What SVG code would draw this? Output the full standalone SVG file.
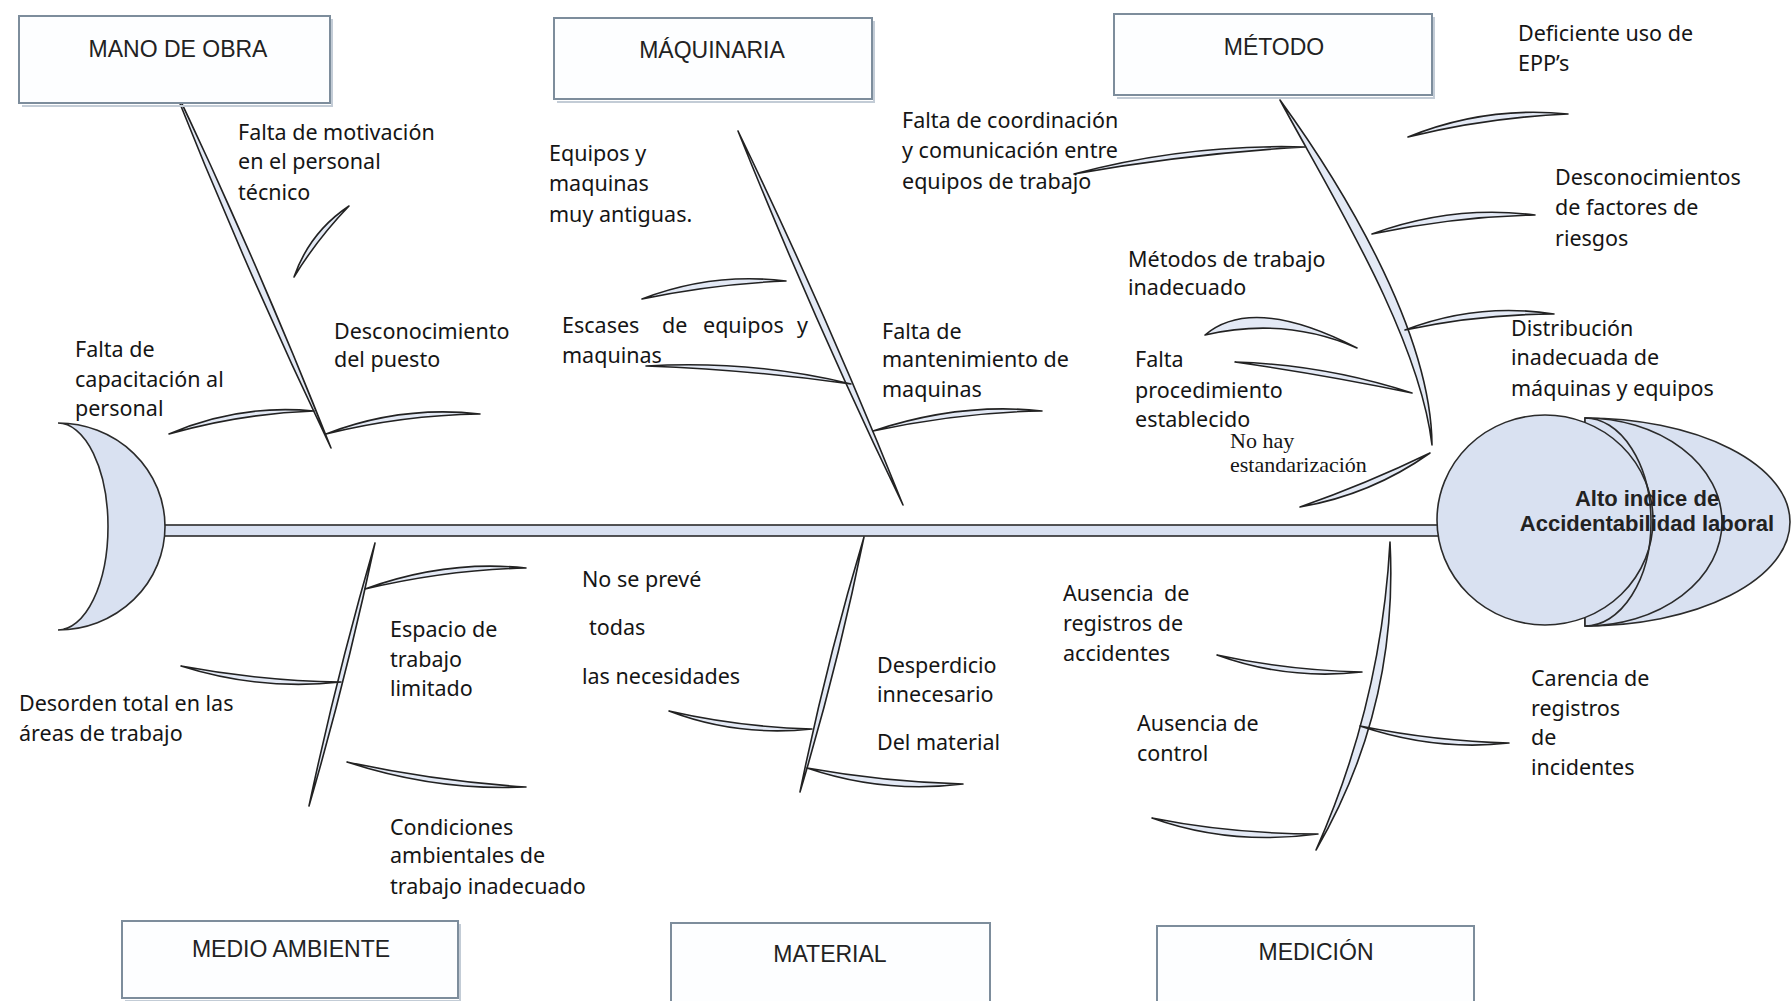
<svg xmlns="http://www.w3.org/2000/svg" width="1792" height="1001" viewBox="0 0 1792 1001">
<style>
.box{fill:#fdfeff;stroke:#7d8d9c;stroke-width:2}
.shadow{fill:none;stroke:#c3ccd6;stroke-width:2}
.lbl{font-family:"Liberation Sans",Arial,sans-serif;font-size:23px;fill:#222;text-anchor:middle}
.t{font-family:"Noto Sans","DejaVu Sans",sans-serif;font-size:21.5px;fill:#151515}
.serif{font-family:"Liberation Serif","Times New Roman",serif;font-size:22px;fill:#151515}
.bone{fill:#e3e9f5;stroke:#222;stroke-width:1.6;stroke-linejoin:round}
.fill{fill:#d9e1f1;stroke:#2b2b2b;stroke-width:1.6}
.head{font-family:"Liberation Sans",Arial,sans-serif;font-weight:bold;font-size:22px;fill:#222;text-anchor:middle}
</style>
<rect x="0" y="0" width="1792" height="1001" fill="#fff"/>

<g id="connectors">
  <rect class="fill" x="160" y="525" width="1282" height="11"/>
  <path class="bone" d="M168,74 Q255.9,258.2 331,448 Q243.1,263.8 168,74 Z"/>
  <path class="bone" d="M738,131 Q826.9,315.2 903,505 Q814.1,320.8 738,131 Z"/>
  <path class="bone" d="M1280,100 C1336.1,177.3 1431.1,327.3 1432,445 C1418.9,332.7 1323.9,182.7 1280,100 Z"/>
  <path class="bone" d="M375,543 Q346.9,675.7 309,806 Q337.2,673.3 375,543 Z"/>
  <path class="bone" d="M864,537 Q837.8,666 800,792 Q826.2,663 864,537 Z"/>
  <path class="bone" d="M1390,542 Q1398.7,707.6 1316,850 Q1381.3,703.4 1390,542 Z"/>
  <path class="bone" d="M294,277 Q317.6,238.5 349,206 Q309.6,232.3 294,277 Z"/>
  <path class="bone" d="M169,434 Q240.1,413.6 314,411 Q238.5,403.8 169,434 Z"/>
  <path class="bone" d="M326,434 Q401.9,415.1 480,414 Q400.6,405.1 326,434 Z"/>
  <path class="bone" d="M642,299 Q713.2,284 786,281 Q711.8,272 642,299 Z"/>
  <path class="bone" d="M646,366 Q752.5,370 851,384 Q753.3,360 646,366 Z"/>
  <path class="bone" d="M873,431 Q960.9,412.1 1042,411 Q959.7,402.1 873,431 Z"/>
  <path class="bone" d="M1074,174 Q1188.7,153.6 1305,147 Q1187.5,143.6 1074,174 Z"/>
  <path class="bone" d="M1408,137 Q1486.9,117.5 1568,114 Q1485.1,105.7 1408,137 Z"/>
  <path class="bone" d="M1372,234 Q1453.6,216.6 1535,215 Q1452.2,204.6 1372,234 Z"/>
  <path class="bone" d="M1405,330 Q1478.6,314.1 1554,314 Q1477.4,302.1 1405,330 Z"/>
  <path class="bone" d="M1205,335 Q1253,294.5 1357,348 Q1285,316.5 1205,335 Z"/>
  <path class="bone" d="M1235,362 Q1323,374.5 1412,393 Q1324.8,364.7 1235,362 Z"/>
  <path class="bone" d="M1300,507 Q1371.1,494.7 1430,453 Q1366.5,483.7 1300,507 Z"/>
  <path class="bone" d="M365,589 Q447.3,569.6 526,568 Q445.9,559.6 365,589 Z"/>
  <path class="bone" d="M181,666 Q260.3,691 341,682 Q261.3,681 181,666 Z"/>
  <path class="bone" d="M347,762 Q436.6,791.3 526,787 Q438,781.5 347,762 Z"/>
  <path class="bone" d="M669,711 Q736.9,736.9 812,729 Q738.1,726.9 669,711 Z"/>
  <path class="bone" d="M807,768 Q883.2,793.9 963,784 Q884.4,781.9 807,768 Z"/>
  <path class="bone" d="M1217,655 Q1286.5,680.4 1362,672 Q1287.7,670.4 1217,655 Z"/>
  <path class="bone" d="M1360,726 Q1435.5,751.4 1509,743 Q1436.7,741.4 1360,726 Z"/>
  <path class="bone" d="M1152,818 Q1230,845.9 1318,834 Q1231.2,833.9 1152,818 Z"/>
</g>

<g id="tail">
  <path class="fill" d="M58,423 A107,103.5 0 0 1 58,630 A50,103.5 0 0 0 58,423 Z"/>
</g>

<g id="head">
  <path class="fill" d="M1585,418 A205,104 0 0 1 1585,626 Z"/>
  <path class="fill" d="M1585,418 A137,104 0 0 1 1585,626 Z"/>
  <ellipse class="fill" cx="1545" cy="520" rx="108" ry="105"/>
  <path d="M1585,418 A66,104 0 0 1 1585,626" fill="none" stroke="#2b2b2b" stroke-width="1.6"/>
  <text class="head" x="1647" y="506">Alto indice de</text>
  <text class="head" x="1647" y="531">Accidentabilidad laboral</text>
</g>

<g id="cat-mano-de-obra">
  <path class="shadow" d="M22,106 H332 V19"/>
  <rect class="box" x="19" y="16" width="311" height="87"/>
  <text class="lbl" x="178" y="57">MANO DE OBRA</text>
</g>
<g id="cat-maquinaria">
  <path class="shadow" d="M557,102 H874 V21"/>
  <rect class="box" x="554" y="18" width="318" height="81"/>
  <text class="lbl" x="712" y="58">MÁQUINARIA</text>
</g>
<g id="cat-metodo">
  <path class="shadow" d="M1117,98 H1434 V17"/>
  <rect class="box" x="1114" y="14" width="318" height="81"/>
  <text class="lbl" x="1274" y="55">MÉTODO</text>
</g>
<g id="cat-medio-ambiente">
  <path class="shadow" d="M125,1001 H460 V924"/>
  <rect class="box" x="122" y="921" width="336" height="77"/>
  <text class="lbl" x="291" y="957">MEDIO AMBIENTE</text>
</g>
<g id="cat-material">
  <rect class="box" x="671" y="923" width="319" height="82"/>
  <text class="lbl" x="830" y="962">MATERIAL</text>
</g>
<g id="cat-medicion">
  <rect class="box" x="1157" y="926" width="317" height="80"/>
  <text class="lbl" x="1316" y="960">MEDICIÓN</text>
</g>

<g id="causes-mano-de-obra" class="t">
  <text x="238" y="140">Falta de motivación</text>
  <text x="238" y="169">en el personal</text>
  <text x="238" y="200">técnico</text>
  <text x="334" y="339">Desconocimiento</text>
  <text x="334" y="367">del puesto</text>
  <text x="75" y="357">Falta de</text>
  <text x="75" y="387">capacitación al</text>
  <text x="75" y="416">personal</text>
</g>

<g id="causes-maquinaria" class="t">
  <text x="549" y="161">Equipos y</text>
  <text x="549" y="191">maquinas</text>
  <text x="549" y="222">muy antiguas.</text>
  <text y="333"><tspan x="562">Escases</tspan><tspan x="662">de</tspan><tspan x="703">equipos</tspan><tspan x="797">y</tspan></text>
  <text x="562" y="363">maquinas</text>
  <text x="882" y="339">Falta de</text>
  <text x="882" y="367">mantenimiento de</text>
  <text x="882" y="397">maquinas</text>
</g>

<g id="causes-metodo" class="t">
  <text x="902" y="128">Falta de coordinación</text>
  <text x="902" y="158">y comunicación entre</text>
  <text x="902" y="189">equipos de trabajo</text>
  <text x="1518" y="41">Deficiente uso de</text>
  <text x="1518" y="71">EPP’s</text>
  <text x="1555" y="185">Desconocimientos</text>
  <text x="1555" y="215">de factores de</text>
  <text x="1555" y="246">riesgos</text>
  <text x="1128" y="267">Métodos de trabajo</text>
  <text x="1128" y="295">inadecuado</text>
  <text x="1511" y="336">Distribución</text>
  <text x="1511" y="365">inadecuada de</text>
  <text x="1511" y="396">máquinas y equipos</text>
  <text x="1135" y="367">Falta</text>
  <text x="1135" y="398">procedimiento</text>
  <text x="1135" y="427">establecido</text>
  <text class="serif" x="1230" y="448">No hay</text>
  <text class="serif" x="1230" y="472">estandarización</text>
</g>

<g id="causes-medio-ambiente" class="t">
  <text x="390" y="637">Espacio de</text>
  <text x="390" y="667">trabajo</text>
  <text x="390" y="696">limitado</text>
  <text x="19" y="711">Desorden total en las</text>
  <text x="19" y="741">áreas de trabajo</text>
  <text x="390" y="835">Condiciones</text>
  <text x="390" y="863">ambientales de</text>
  <text x="390" y="894">trabajo inadecuado</text>
</g>

<g id="causes-material" class="t">
  <text x="582" y="587">No se prevé</text>
  <text x="589" y="635">todas</text>
  <text x="582" y="684">las necesidades</text>
  <text x="877" y="673">Desperdicio</text>
  <text x="877" y="702">innecesario</text>
  <text x="877" y="750">Del material</text>
</g>

<g id="causes-medicion" class="t">
  <text y="601"><tspan x="1063">Ausencia</tspan><tspan x="1164">de</tspan></text>
  <text x="1063" y="631">registros de</text>
  <text x="1063" y="661">accidentes</text>
  <text x="1137" y="731">Ausencia de</text>
  <text x="1137" y="761">control</text>
  <text x="1531" y="686">Carencia de</text>
  <text x="1531" y="716">registros</text>
  <text x="1531" y="745">de</text>
  <text x="1531" y="775">incidentes</text>
</g>
</svg>
